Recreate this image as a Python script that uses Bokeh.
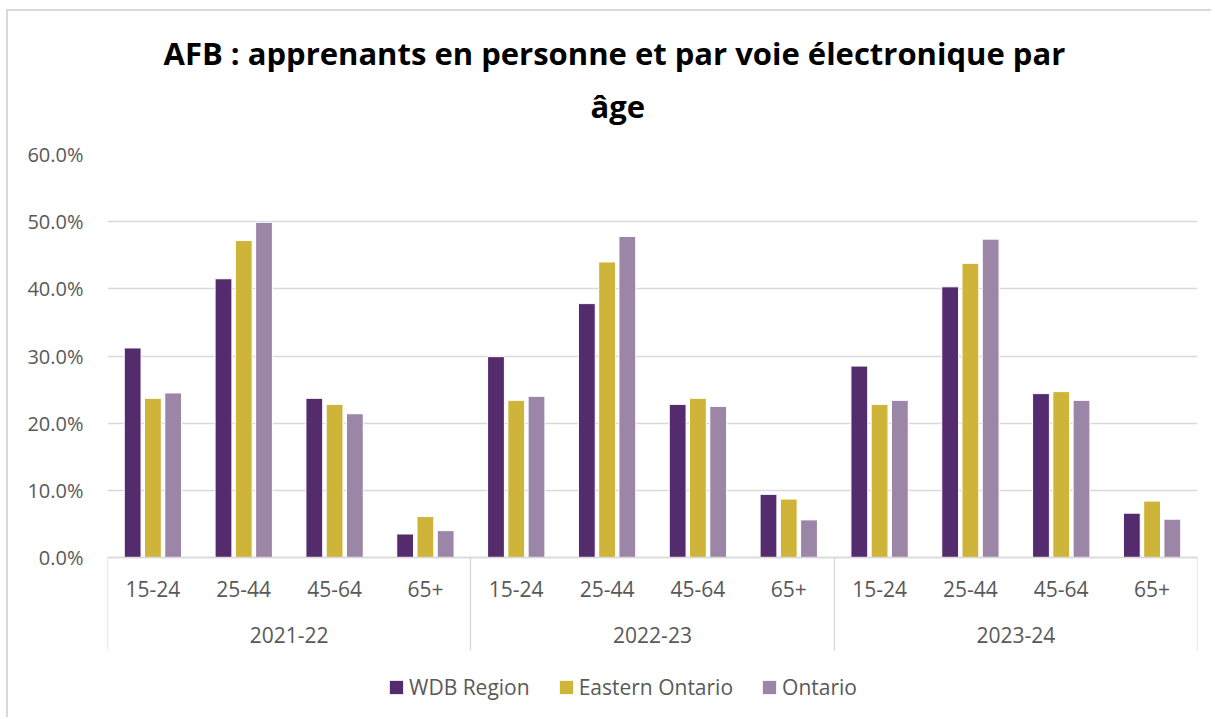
from bokeh.plotting import figure
from bokeh.models import (FactorRange, Range1d, CategoricalAxis, FixedTicker, NumeralTickFormatter,
                          Legend, LegendItem, Title, ColumnDataSource)
from bokeh.transform import dodge
from bokeh.embed import file_html
from bokeh.resources import INLINE

# ---------------- data ----------------
years = ["2021-22", "2022-23", "2023-24"]
ages = ["15-24", "25-44", "45-64", "65+"]
series_names = ["WDB Region", "Eastern Ontario", "Ontario"]
wdb = [0.312, 0.415, 0.237, 0.035, 0.299, 0.378, 0.228, 0.094, 0.285, 0.403, 0.244, 0.066]
eastern = [0.237, 0.472, 0.228, 0.061, 0.234, 0.440, 0.237, 0.087, 0.228, 0.438, 0.247, 0.084]
ontario = [0.245, 0.499, 0.214, 0.040, 0.240, 0.478, 0.225, 0.056, 0.234, 0.474, 0.234, 0.057]
y_ticks = [0.0, 0.1, 0.2, 0.3, 0.4, 0.5, 0.6]
title_line1 = "AFB : apprenants en personne et par voie électronique par"
title_line2 = "âge"

# ---------------- style / layout ----------------
colors = ["#542B6C", "#CFB43A", "#9C86A8"]
grid_col = "#d9d9d9"
text_col = "#595959"
font = "Open Sans"
title_font = "Open Sans"

# pixel layout: the plotting frame runs from the top gridline down to the canvas bottom,
# so the category labels, separators and legend are drawn inside it, below zero
top_px, zero_px, bottom_px = 154, 557, 717
px_per_unit = (zero_px - top_px) / y_ticks[-1]
y_start = -(bottom_px - zero_px) / px_per_unit

factors = [(y, a) for y in years for a in ages]
src = ColumnDataSource(dict(x=factors, wdb=wdb, eastern=eastern, ontario=ontario))

p = figure(
    x_range=FactorRange(*factors, factor_padding=0, group_padding=0, range_padding=0),
    y_range=Range1d(y_start, y_ticks[-1]),
    width=1205, height=708,
    output_backend="svg", toolbar_location=None,
    min_border_left=99, min_border_right=16, min_border_top=143, min_border_bottom=2,
    background_fill_color="white", border_fill_color="white",
)
p.styles = {"margin-left": "6px", "margin-top": "9px",
            "border-left": "2px solid #d9d9d9", "border-top": "2px solid #d9d9d9"}
p.outline_line_color = None

# bars
keys = ["wdb", "eastern", "ontario"]
offsets = [-0.223, 0.0, 0.223]
items = []
for key, off, col, name in zip(keys, offsets, colors, series_names):
    r = p.vbar(x=dodge("x", off, range=p.x_range), top=key, bottom=0, width=0.185, source=src,
               fill_color=col, line_color="white", line_width=1)
    items.append(LegendItem(label=name, renderers=[r]))

# y axis / grid
p.yaxis.ticker = FixedTicker(ticks=y_ticks)
p.yaxis.formatter = NumeralTickFormatter(format="0.0%")
p.yaxis.axis_line_color = None
p.yaxis.major_tick_line_color = None
p.yaxis.major_tick_out = 0
p.yaxis.major_tick_in = 0
p.yaxis.minor_tick_line_color = None
p.yaxis.major_label_text_font = font
p.yaxis.major_label_text_font_size = "20px"
p.yaxis.major_label_text_color = text_col
p.yaxis.major_label_standoff = 24
p.ygrid.ticker = FixedTicker(ticks=y_ticks)
p.ygrid.grid_line_color = grid_col
p.ygrid.grid_line_width = 1.3
p.xgrid.grid_line_color = None

# main categorical axis (age labels), pinned at zero
xa = p.xaxis[0]
xa.fixed_location = 0
xa.axis_line_color = grid_col
xa.axis_line_width = 1.3
xa.major_tick_line_color = None
xa.major_tick_out = 0
xa.major_tick_in = 0
xa.minor_tick_line_color = None
xa.major_label_text_font = font
xa.major_label_text_font_size = "21px"
xa.major_label_text_color = text_col
xa.major_label_standoff = 23
xa.group_text_color = None
xa.group_text_font_size = "1px"
xa.separator_line_color = None

p.extra_x_ranges = {
    "grp": FactorRange(*years, factor_padding=0, range_padding=0),
    # one factor per boundary between year groups; range trimmed so that the first
    # and last boundaries fall on the frame edges
    "sep": FactorRange(*[f"b{i}" for i in range(len(years) + 1)], factor_padding=0,
                       range_padding=-0.499, range_padding_units="absolute"),
}

# year labels
grp_axis = CategoricalAxis(x_range_name="grp", fixed_location=0)
grp_axis.axis_line_color = None
grp_axis.major_tick_line_color = None
grp_axis.minor_tick_line_color = None
grp_axis.major_tick_in = 0
grp_axis.major_tick_out = 0
grp_axis.major_label_standoff = 69
grp_axis.major_label_text_font = font
grp_axis.major_label_text_font_size = "21px"
grp_axis.major_label_text_color = text_col
p.add_layout(grp_axis, "below")

# separator lines between year groups
sep_axis = CategoricalAxis(x_range_name="sep", fixed_location=0)
sep_axis.axis_line_color = None
sep_axis.major_tick_in = 0
sep_axis.major_tick_out = 93
sep_axis.major_tick_line_color = grid_col
sep_axis.major_tick_line_width = 1.3
sep_axis.minor_tick_line_color = None
sep_axis.major_label_text_color = None
sep_axis.major_label_text_font_size = "1px"
sep_axis.major_label_standoff = 0
p.add_layout(sep_axis, "below")

# legend (inside the extended frame, under the year labels)
legend = Legend(items=items, orientation="horizontal", location=(280, 16),
                glyph_width=18, glyph_height=18, label_standoff=4, spacing=27,
                padding=0, margin=0, border_line_color=None, background_fill_alpha=0,
                label_text_font=font, label_text_font_size="21px", label_text_color=text_col)
p.add_layout(legend, "center")

# spacer between the frame and the title block
spacer = CategoricalAxis(x_range_name="grp")
spacer.axis_line_color = None
spacer.major_tick_line_color = None
spacer.minor_tick_line_color = None
spacer.major_tick_in = 0
spacer.major_tick_out = 28
spacer.major_label_text_color = None
spacer.major_label_text_font_size = "1px"
spacer.major_label_standoff = 0
p.add_layout(spacer, "above")

# title (two lines)
t2 = Title(text=title_line2, align="left", offset=483, text_font=title_font,
           text_font_size="31px", text_font_style="bold", text_color="black", standoff=0)
t1 = Title(text=title_line1, align="left", offset=56, text_font=title_font,
           text_font_size="31px", text_font_style="bold", text_color="black", standoff=18)
p.add_layout(t2, "above")
p.add_layout(t1, "above")

open("out.html", "w").write(file_html(p, INLINE))
